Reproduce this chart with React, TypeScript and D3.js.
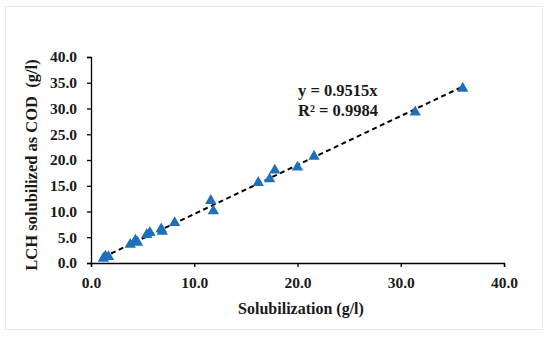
import React, { useRef, useEffect } from 'react';
import * as d3 from 'd3';

// Solubilization (g/l) vs LCH solubilized as COD (g/l)
const solubilization = [1.2, 1.4, 1.7, 3.8, 4.3, 4.5, 5.4, 5.7, 6.8, 6.9, 8.1, 11.6, 11.85, 16.2, 17.3, 17.8, 20.0, 21.6, 31.4, 36.0];
const codValues = [0.9, 1.3, 1.2, 3.6, 4.4, 4.0, 5.5, 5.9, 6.6, 6.1, 7.8, 12.1, 10.1, 15.6, 16.3, 18.0, 18.6, 20.7, 29.3, 33.9];
const tickValues = [0, 10, 20, 30, 40];
const yTickValues = [0, 5, 10, 15, 20, 25, 30, 35, 40];
const slope = 0.9515;
const equationLines = ['y = 0.9515x', 'R² = 0.9984'];

const App = () => {
  const chartRef = useRef<SVGSVGElement>(null);

  useEffect(() => {
    const width = 550;
    const height = 337;
    const font = '"Liberation Serif", "Times New Roman", serif';

    const svg = d3.select(chartRef.current);
    svg.selectAll('*').remove();
    svg.attr('width', width).attr('height', height);

    // outer frame
    svg.append('rect')
      .attr('x', 5.5).attr('y', 6.5)
      .attr('width', 537).attr('height', 323)
      .attr('fill', 'white')
      .attr('stroke', '#e8e8e8');

    const x = d3.scaleLinear().domain([0, 40]).range([91, 504]);
    const y = d3.scaleLinear().domain([0, 40]).range([263, 57]);

    const xAxis = svg.append('g')
      .attr('transform', `translate(0,${y(0)})`)
      .call(d3.axisBottom(x).tickValues(tickValues).tickFormat(d3.format('.1f')).tickSizeOuter(0).tickSize(4));
    const yAxis = svg.append('g')
      .attr('transform', `translate(${x(0)},0)`)
      .call(d3.axisLeft(y).tickValues(yTickValues).tickFormat(d3.format('.1f')).tickSizeOuter(0).tickSize(4));

    [xAxis, yAxis].forEach(g => {
      g.select('.domain').attr('stroke', '#000').attr('stroke-width', 1.3);
      g.selectAll('.tick line').attr('stroke', '#000').attr('stroke-width', 1.3);
      g.selectAll('.tick text')
        .attr('fill', '#1a1a1a')
        .style('font-family', font)
        .style('font-size', '15.5px')
        .style('font-weight', 'bold');
    });
    xAxis.selectAll('.tick text').attr('dy', '1.05em').attr('y', 9);
    yAxis.selectAll('.tick text').attr('x', -14);

    // trendline
    const xMin = d3.min(solubilization) as number;
    const xMax = d3.max(solubilization) as number;
    svg.append('line')
      .attr('x1', x(xMin)).attr('y1', y(slope * xMin))
      .attr('x2', x(xMax)).attr('y2', y(slope * xMax))
      .attr('stroke', '#000')
      .attr('stroke-width', 2)
      .attr('stroke-dasharray', '5,3.5');

    // markers
    const tri = d3.symbol().type(d3.symbolTriangle).size(56);
    svg.append('g')
      .selectAll('path')
      .data(solubilization.map((v, i) => [v, codValues[i]]))
      .enter().append('path')
      .attr('d', tri)
      .attr('transform', d => `translate(${x(d[0])},${y(d[1])})`)
      .attr('fill', '#1f70bb');

    // equation
    svg.append('g')
      .selectAll('text')
      .data(equationLines)
      .enter().append('text')
      .attr('x', 298)
      .attr('y', (d, i) => 96 + i * 20)
      .text(d => d)
      .style('font-family', font)
      .style('font-size', '16.5px')
      .style('font-weight', 'bold')
      .attr('fill', '#1a1a1a');

    // axis titles
    svg.append('text')
      .attr('x', 301).attr('y', 314)
      .attr('text-anchor', 'middle')
      .text('Solubilization (g/l)')
      .style('font-family', font)
      .style('font-size', '16px')
      .style('font-weight', 'bold')
      .attr('fill', '#1a1a1a');

    svg.append('text')
      .attr('transform', `translate(37,165) rotate(-90)`)
      .attr('text-anchor', 'middle')
      .attr('xml:space', 'preserve')
      .style('white-space', 'pre')
      .text('LCH solubilized as COD  (g/l)')
      .style('font-family', font)
      .style('font-size', '16.5px')
      .style('font-weight', 'bold')
      .attr('fill', '#1a1a1a');
  }, []);

  return <svg ref={chartRef} style={{ position: 'absolute', left: 0, top: 0 }}></svg>;
};

export default App;
